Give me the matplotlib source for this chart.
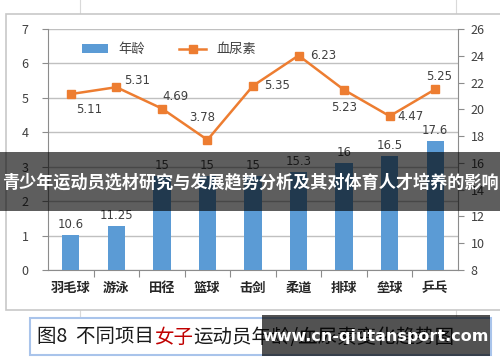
import matplotlib
matplotlib.use("Agg")
import matplotlib.pyplot as plt
from matplotlib.patches import Rectangle, Patch
from matplotlib.lines import Line2D

plt.rcParams['font.family'] = ['Noto Sans CJK SC', 'DejaVu Sans']

# data
sports = ["羽毛球", "游泳", "田径", "篮球", "击剑", "柔道", "排球", "垒球", "乒乓"]
age = [10.6, 11.25, 15, 15, 15, 15.3, 16, 16.5, 17.6]
urea = [5.11, 5.31, 4.69, 3.78, 5.35, 6.23, 5.23, 4.47, 5.25]
left_ticks = [0, 1, 2, 3, 4, 5, 6, 7]
right_ticks = [8, 10, 12, 14, 16, 18, 20, 22, 24, 26]
# label offsets for the line labels (points)
urea_offsets = [(13, -11), (15, 5), (10, 9), (-4, 16), (17, 0), (18, 0), (0, -13), (15, 0), (3, 9)]

W, H = 500, 362
blue = "#5b9bd5"
orange = "#ed7d31"
txt = "#404040"
axc = "#8c8c8c"

fig = plt.figure(figsize=(W / 100, H / 100), dpi=100)
fig.patch.set_facecolor("white")

def fx(px):
    return px / W

def fy(py):
    return 1 - py / H

# spreadsheet background lines
for x in [80, 456]:
    fig.add_artist(Line2D([fx(x), fx(x)], [fy(0), fy(14)], color="#d9d9d9", lw=0.8, zorder=-2))
    fig.add_artist(Line2D([fx(x), fx(x)], [fy(310), fy(318)], color="#d9d9d9", lw=0.8, zorder=-2))

# chart frame (behind the axes)
fig.add_artist(Rectangle((fx(6), fy(310)), fx(500) - fx(6) + 0.01, fy(14) - fy(310),
                         transform=fig.transFigure, facecolor="white", edgecolor="#c8c8c8",
                         lw=1.2, zorder=-1))

rect = [fx(48), fy(270), fx(458) - fx(48), fy(29) - fy(270)]
ax = fig.add_axes(rect)
ax.patch.set_visible(False)
ax2 = ax.twinx()
ax3 = ax.twinx()

x = list(range(len(sports)))

# left axis with grid
ax.set_ylim(0, 7)
ax.set_yticks(left_ticks)
ax.set_xlim(-0.5, len(sports) - 0.5)
ax.grid(axis="y", color="#c0c0c0", lw=1.0)
ax.set_axisbelow(True)
ax.tick_params(axis="y", labelsize=9, colors=txt, length=4, color=axc, pad=10)
ax.set_xticks([i + 0.5 for i in x[:-1]])
ax.set_xticklabels([])
ax.set_xticks(x, minor=True)
ax.set_xticklabels(sports, minor=True, fontsize=9.5, fontweight="bold", color="#262626")
ax.tick_params(axis="x", which="major", length=5, color=axc)
ax.tick_params(axis="x", which="minor", length=0, pad=8)
for s in ["top", "right"]:
    ax.spines[s].set_visible(False)
for s in ["left", "bottom"]:
    ax.spines[s].set_color(axc)

# bars on right axis
bars = ax2.bar(x, age, width=0.38, color=blue, zorder=2)
ax2.set_ylim(8, 26)
ax2.set_yticks(right_ticks)
ax2.tick_params(axis="y", labelsize=9, colors=txt, length=4, color=axc, pad=5)
for s in ["top", "left", "bottom"]:
    ax2.spines[s].set_visible(False)
ax2.spines["right"].set_color(axc)
for xi, v in zip(x, age):
    ax2.annotate(f"{v:g}", (xi, v), xytext=(0, 3), textcoords="offset points",
                 ha="center", va="bottom", fontsize=8.5, color=txt, family="DejaVu Sans")

# line on top
ax3.plot(x, urea, color=orange, lw=1.8, marker="s", markersize=6, zorder=3)
ax3.set_ylim(0, 7)
ax3.set_yticks([])
for s in ax3.spines.values():
    s.set_visible(False)
for xi, v, (dx, dy) in zip(x, urea, urea_offsets):
    ax3.annotate(f"{v:.2f}", (xi, v), xytext=(dx, dy), textcoords="offset points",
                 ha="center", va="center", fontsize=8.5, color=txt, family="DejaVu Sans")

handles = [Patch(facecolor=blue, label="年龄"),
           Line2D([], [], color=orange, lw=1.8, marker="s", markersize=6, label="血尿素")]
ax3.legend(handles=handles, loc="center", bbox_to_anchor=(0.295, 0.915), ncol=2,
           frameon=False, fontsize=9.5, handlelength=2.0, handleheight=0.6,
           columnspacing=2.6, labelcolor=txt)

# caption box
fig.add_artist(Rectangle((fx(30), fy(355)), fx(491) - fx(30), fy(318) - fy(355),
                         transform=fig.transFigure, facecolor="white", edgecolor="#a9c4eb", lw=1.5))
t1 = fig.text(fx(37), fy(337), "图8  不同项目", fontsize=14, color="#1a1a1a", va="center")
fig.canvas.draw()
r = fig.canvas.get_renderer()
bb = t1.get_window_extent(r)
t2 = fig.text(bb.x1 / W, fy(337), "女子", fontsize=14, color="#c00000", va="center")
bb2 = t2.get_window_extent(r)
fig.text(bb2.x1 / W, fy(337), "运动员年龄/血尿素变化趋势图", fontsize=14, color="#1a1a1a", va="center")

# watermark
fig.add_artist(Rectangle((fx(262), fy(356)), fx(490) - fx(262), fy(315) - fy(356),
                         transform=fig.transFigure, facecolor="black", alpha=0.68, lw=0, zorder=5))
fig.text(fx(376), fy(336), "www.cn-qiutansport.com", fontsize=11.5, fontweight="bold",
         color="white", ha="center", va="center", family="DejaVu Sans", zorder=6)

# title banner
fig.add_artist(Rectangle((0, fy(211)), 1, fy(152) - fy(211),
                         transform=fig.transFigure, facecolor="black", alpha=0.63, lw=0, zorder=5))
fig.text(0.5, fy(182), "青少年运动员选材研究与发展趋势分析及其对体育人才培养的影响",
         fontsize=12.3, fontweight="bold", color="white", ha="center", va="center", zorder=6)

fig.savefig("out.png", dpi=100)
